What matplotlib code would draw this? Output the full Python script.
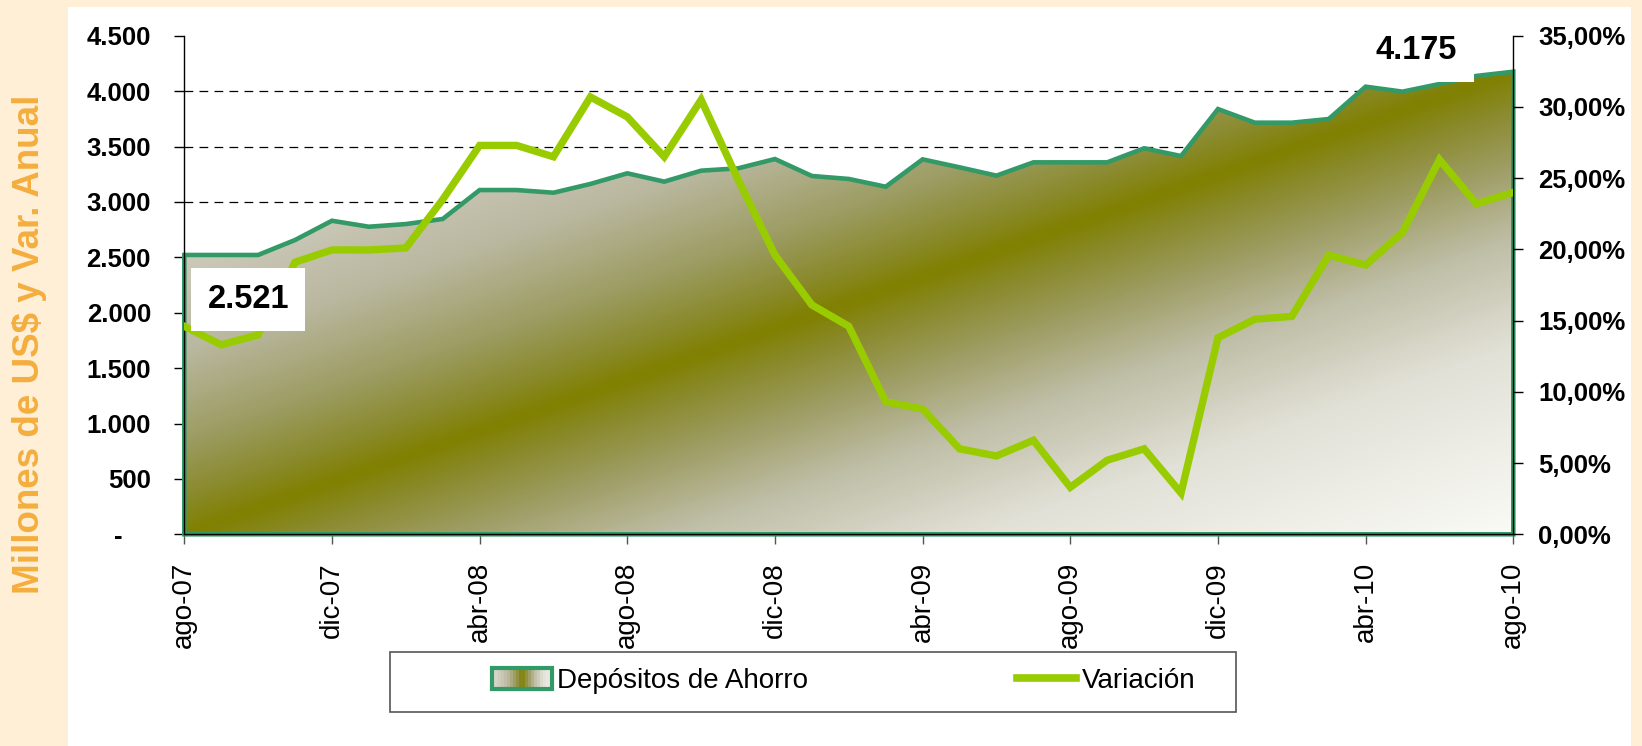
import matplotlib
matplotlib.use("Agg")
import matplotlib.pyplot as plt
import numpy as np
from matplotlib.colors import LinearSegmentedColormap
from matplotlib.patches import Rectangle, Polygon, Patch
from matplotlib.legend_handler import HandlerBase
from matplotlib.lines import Line2D

plt.rcParams['font.family'] = ['Liberation Sans', 'DejaVu Sans']

months = ['ago-07', 'sep-07', 'oct-07', 'nov-07', 'dic-07', 'ene-08', 'feb-08', 'mar-08',
          'abr-08', 'may-08', 'jun-08', 'jul-08', 'ago-08', 'sep-08', 'oct-08', 'nov-08',
          'dic-08', 'ene-09', 'feb-09', 'mar-09', 'abr-09', 'may-09', 'jun-09', 'jul-09',
          'ago-09', 'sep-09', 'oct-09', 'nov-09', 'dic-09', 'ene-10', 'feb-10', 'mar-10',
          'abr-10', 'may-10', 'jun-10', 'jul-10', 'ago-10']

# Millones de US$
depositos = [2521, 2521, 2521, 2656, 2830, 2776, 2800, 2846, 3107, 3107, 3083, 3162,
             3258, 3183, 3282, 3303, 3387, 3234, 3207, 3137, 3384, 3312, 3237, 3357,
             3357, 3357, 3484, 3414, 3838, 3715, 3715, 3748, 4040, 3995, 4064, 4137, 4175]

# variacion anual, %
variacion = [14.6, 13.3, 14.0, 19.1, 19.96, 19.96, 20.1, 23.5, 27.3, 27.3, 26.5, 30.7,
             29.3, 26.5, 30.5, 24.9, 19.6, 16.1, 14.6, 9.3, 8.8, 6.0, 5.5, 6.6,
             3.3, 5.2, 6.0, 2.9, 13.8, 15.1, 15.3, 19.6, 18.9, 21.2, 26.3, 23.2, 24.0]

y_ticks = [0, 500, 1000, 1500, 2000, 2500, 3000, 3500, 4000, 4500]
pct_ticks = [0, 5, 10, 15, 20, 25, 30, 35]

GREEN = '#339966'
LIME = '#99CC00'


def miles(v):
    return f'{v:,.0f}'.replace(',', '.')


def rgb(r, g, b):
    return (r / 255, g / 255, b / 255)


# diagonal gradient: olive on the diagonal, light towards the corners
grad_cmap = LinearSegmentedColormap.from_list('grad', [
    (0.0, rgb(250, 250, 246)),
    (0.2, rgb(226, 225, 215)),
    (0.32, rgb(190, 189, 165)),
    (0.4, rgb(158, 157, 100)),
    (0.46, rgb(138, 138, 45)),
    (0.5, rgb(128, 128, 0)),
    (0.54, rgb(138, 138, 45)),
    (0.6, rgb(156, 156, 98)),
    (0.7, rgb(186, 184, 160)),
    (0.85, rgb(212, 210, 198)),
    (1.0, rgb(228, 226, 218)),
])


class GradientHandler(HandlerBase):
    def create_artists(self, legend, orig_handle, xdescent, ydescent, width, height, fontsize, trans):
        arts = []
        n = 20
        for k in range(n):
            c = grad_cmap(0.9 - 0.8 * k / (n - 1))
            arts.append(Rectangle((-xdescent + width * k / n, -ydescent), width / n + 0.3, height,
                                  facecolor=c, edgecolor='none', transform=trans))
        arts.append(Rectangle((-xdescent, -ydescent), width, height, fill=False,
                              edgecolor=GREEN, lw=3, transform=trans))
        return arts


x = np.arange(len(months))

fig = plt.figure(figsize=(16.42, 7.46), dpi=100, facecolor='#FFEFD6')
fig.patches.append(Rectangle((0.0416, 0), 0.9515, 0.991, transform=fig.transFigure,
                             facecolor='white', edgecolor='none', zorder=-2))
fig.patches.append(Rectangle((389.5 / 1642, 34 / 746), 846 / 1642, 60 / 746, transform=fig.transFigure,
                             facecolor='white', edgecolor='#555555', lw=1.2, zorder=-1))

ax = fig.add_axes([0.11224, 0.28378, 0.80938, 0.66836])
ax.set_facecolor('white')

ymax = max(depositos)
U, V = np.meshgrid(np.linspace(0, 1, 500), np.linspace(0, 1, 250))
grad = (V - U + 1) / 2
im = ax.imshow(grad, cmap=grad_cmap, vmin=0, vmax=1, origin='lower',
               extent=[x[0], x[-1], 0, ymax], aspect='auto', interpolation='bilinear', zorder=1)
area = ax.fill_between(x, depositos, 0, facecolor='none', edgecolor='none')
im.set_clip_path(area.get_paths()[0], transform=ax.transData)

verts = [(x[0], 0)] + list(zip(x, depositos)) + [(x[-1], 0)]
ax.add_patch(Polygon(verts, closed=True, fill=False, edgecolor=GREEN, lw=3.3,
                     joinstyle='miter', zorder=2, clip_on=False))

ax.set_xlim(x[0], x[-1])
ax.set_ylim(0, 4500)
ax.set_yticks(y_ticks, labels=['-    ' if v == 0 else miles(v) for v in y_ticks],
              fontsize=18.5, fontweight='bold')
ax.set_xticks(x[::4], labels=months[::4], rotation=90, fontsize=20)
ax.tick_params(axis='y', length=7, width=1, pad=17)
ax.tick_params(axis='x', length=7, width=1, color='#555555', pad=13)
ax.set_axisbelow(True)
ax.yaxis.grid(True, color='black', linestyle=(0, (7, 5)), linewidth=0.9)
ax.xaxis.grid(False)
ax.get_ygridlines()[-1].set_visible(False)
ax.spines['top'].set_visible(False)
ax.spines['right'].set_visible(False)
for s in ['left', 'bottom']:
    ax.spines[s].set_color('black')
    ax.spines[s].set_linewidth(1)

ax2 = ax.twinx()
ax2.plot(x, variacion, color=LIME, lw=5.3, solid_joinstyle='miter', zorder=3)
ax2.set_ylim(0, 35)
ax2.set_yticks(pct_ticks, labels=[f'{p:.2f}%'.replace('.', ',') for p in pct_ticks],
               fontsize=18.5, fontweight='bold')
ax2.tick_params(axis='y', length=7, width=1, pad=11)
for s in ['top', 'left', 'bottom']:
    ax2.spines[s].set_visible(False)
ax2.spines['right'].set_color('black')
ax2.spines['right'].set_linewidth(1)

box = dict(boxstyle='square,pad=0.5', fc='white', ec='none')
ax2.annotate(miles(depositos[0]), xy=(x[0], depositos[0]), xycoords=ax.transData,
             xytext=(46, -32), textcoords='offset points', ha='center', va='center',
             fontsize=23.5, fontweight='bold', bbox=box, zorder=6)
ax2.annotate(miles(depositos[-1]), xy=(x[-1], depositos[-1]), xycoords=ax.transData,
             xytext=(-69.6, 15.5), textcoords='offset points', ha='center', va='center',
             fontsize=23.5, fontweight='bold', bbox=box, zorder=6)

fig.text(0.0177, 0.539, 'Millones de US$ y Var. Anual', rotation=90, color='#F4AE3F',
         fontsize=26.5, fontweight='bold', ha='center', va='center')

fig.legend(handles=[Patch(), Line2D([], [], color=LIME, lw=5.5)],
           labels=['Depósitos de Ahorro', 'Variación'],
           handler_map={Patch: GradientHandler()},
           loc='center left', bbox_to_anchor=(492 / 1642, 0.0871), ncol=2, frameon=False,
           borderpad=0, borderaxespad=0, handlelength=2.15, handleheight=0.75,
           handletextpad=0.2, columnspacing=7.5, prop={'size': 20})

fig.savefig('out.png', dpi=100, facecolor=fig.get_facecolor())
